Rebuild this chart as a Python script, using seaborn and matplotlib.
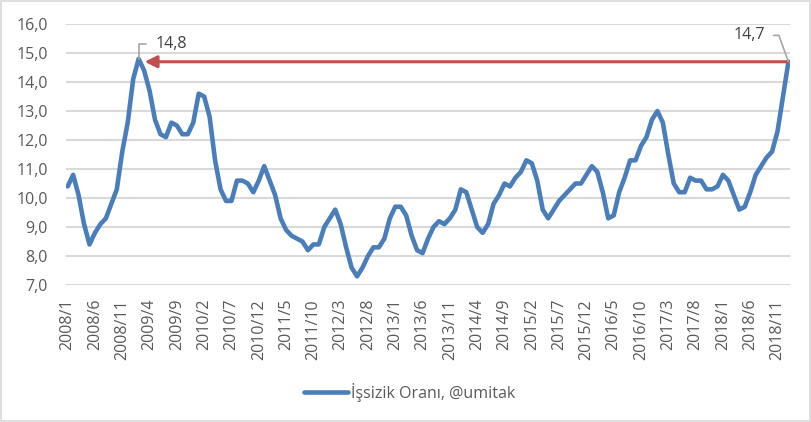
import pandas as pd
import matplotlib.pyplot as plt
import seaborn as sns
from matplotlib.patches import Rectangle

sns.set_style("white")
plt.rcParams['font.family'] = ['Open Sans', 'DejaVu Sans']

# monthly unemployment rate, 2008/1 .. 2019/1
years = list(range(2008, 2020))
rates = [10.4, 10.8, 10.1, 9.1, 8.4, 8.8, 9.1, 9.3, 9.8, 10.3, 11.6, 12.6,
         14.1, 14.8, 14.4, 13.7, 12.7, 12.2, 12.1, 12.6, 12.5, 12.2, 12.2, 12.6,
         13.6, 13.5, 12.8, 11.3, 10.3, 9.9, 9.9, 10.6, 10.6, 10.5, 10.2, 10.6,
         11.1, 10.6, 10.1, 9.3, 8.9, 8.7, 8.6, 8.5, 8.2, 8.4, 8.4, 9.0,
         9.3, 9.6, 9.1, 8.3, 7.6, 7.3, 7.6, 8.0, 8.3, 8.3, 8.6, 9.3,
         9.7, 9.7, 9.4, 8.7, 8.2, 8.1, 8.6, 9.0, 9.2, 9.1, 9.3, 9.6,
         10.3, 10.2, 9.6, 9.0, 8.8, 9.1, 9.8, 10.1, 10.5, 10.4, 10.7, 10.9,
         11.3, 11.2, 10.6, 9.6, 9.3, 9.6, 9.9, 10.1, 10.3, 10.5, 10.5, 10.8,
         11.1, 10.9, 10.2, 9.3, 9.4, 10.2, 10.7, 11.3, 11.3, 11.8, 12.1, 12.7,
         13.0, 12.6, 11.5, 10.5, 10.2, 10.2, 10.7, 10.6, 10.6, 10.3, 10.3, 10.4,
         10.8, 10.6, 10.1, 9.6, 9.7, 10.2, 10.8, 11.1, 11.4, 11.6, 12.3, 13.5,
         14.7]
periods = [f"{y}/{m}" for y in years for m in range(1, 13)][:len(rates)]
tick_step = 5
y_ticks = [7, 8, 9, 10, 11, 12, 13, 14, 15, 16]

df = pd.DataFrame({'idx': range(len(rates)), 'donem': periods, 'oran': rates})

blue = '#4A7EBB'
red = '#C0504D'
grey_txt = '#595959'

fig = plt.figure(figsize=(8.12, 4.22), dpi=100)
ax = fig.add_axes([0.0813, 0.3246, 0.8917, 0.6184])

sns.lineplot(data=df, x='idx', y='oran', color=blue, linewidth=3.3, ax=ax,
             label='İşsizik Oranı, @umitak', legend=False)

ax.set_xlim(-0.3, len(rates) - 0.7)
ax.set_ylim(7, 16)
ax.set_yticks(y_ticks)
ax.set_yticklabels([f"{v:.1f}".replace('.', ',') for v in y_ticks])
tick_pos = list(range(0, len(rates), tick_step))
ax.set_xticks(tick_pos)
ax.set_xticklabels([periods[i] for i in tick_pos], rotation=90)
ax.tick_params(axis='y', length=0, pad=13, labelsize=11.5, labelcolor=grey_txt)
ax.tick_params(axis='x', length=0, pad=10, labelsize=11.5, labelcolor=grey_txt)
ax.yaxis.grid(True, color='#D9D9D9', linewidth=1.5)
ax.set_axisbelow(True)
for s in ax.spines.values():
    s.set_visible(False)
ax.set_xlabel('')
ax.set_ylabel('')

# peak and last value
peak_i = int(df['oran'].idxmax())
last_i = len(rates) - 1
ax.annotate('', xy=(peak_i + 1.1, rates[last_i]), xytext=(last_i, rates[last_i]),
            arrowprops=dict(arrowstyle='-|>', color=red, lw=2.2, mutation_scale=18,
                            shrinkA=0, shrinkB=0))

ax.annotate(f"{rates[peak_i]:.1f}".replace('.', ','), xy=(peak_i, rates[peak_i]),
            xytext=(12, 11), textcoords='offset points', fontsize=11.5,
            color='#404040', ha='left', va='center',
            arrowprops=dict(arrowstyle='-', color='#A6A6A6', lw=1.2,
                            connectionstyle='angle,angleA=0,angleB=90,rad=0',
                            relpos=(0, 0.5), shrinkA=4, shrinkB=0))
ax.annotate(f"{rates[last_i]:.1f}".replace('.', ','), xy=(last_i, rates[last_i]),
            xytext=(-17, 19), textcoords='offset points', fontsize=11.5,
            color='#404040', ha='right', va='center',
            arrowprops=dict(arrowstyle='-', color='#A6A6A6', lw=1.2,
                            connectionstyle='angle,angleA=0,angleB=110,rad=0',
                            relpos=(1, 0.5), shrinkA=4, shrinkB=0))

handles, labels = ax.get_legend_handles_labels()
fig.legend(handles, labels, loc='center', bbox_to_anchor=(0.505, 0.071),
           frameon=False, fontsize=11.5, handlelength=2.7, handletextpad=0.25,
           labelcolor=grey_txt)

fig.patches.append(Rectangle((0.001, 0.002), 0.997, 0.995, transform=fig.transFigure,
                             fill=False, edgecolor='#D9D9D9', linewidth=1.2))

fig.savefig('out.png', dpi=100)
